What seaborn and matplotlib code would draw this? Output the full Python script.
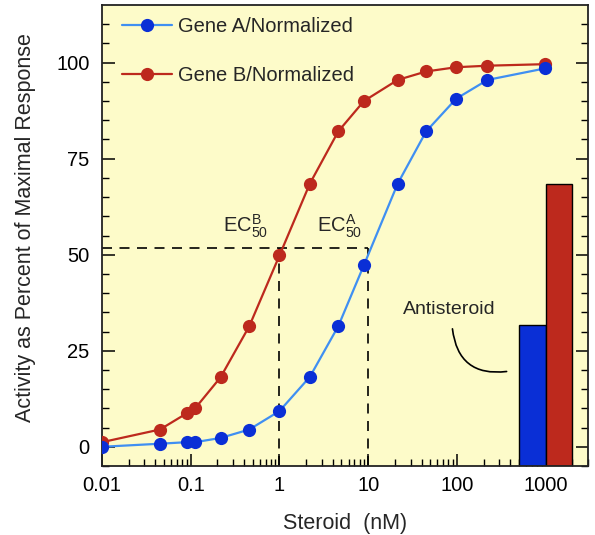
import numpy as np
import pandas as pd
import matplotlib
matplotlib.use("Agg")
import matplotlib.pyplot as plt
import seaborn as sns
from matplotlib.ticker import FixedLocator, NullFormatter, LogLocator

# ---- data ----
steroid_nM = [0.01, 0.045, 0.09, 0.112, 0.217, 0.457, 1.0, 2.2, 4.6, 8.95, 21.5, 45, 98, 221, 986]
gene_a = [0.0, 0.8, 1.2, 1.2, 2.3, 4.5, 9.3, 18.2, 31.4, 47.3, 68.5, 82.1, 90.6, 95.5, 98.5]
gene_b = [1.2, 4.5, 8.7, 10.0, 18.1, 31.4, 49.8, 68.5, 82.1, 90.0, 95.5, 97.7, 98.8, 99.2, 99.6]
series_labels = ["Gene A/Normalized", "Gene B/Normalized"]

ec50_level = 51.7
ec50_b = 1.0
ec50_a = 10.0

antisteroid_labels = ["Gene A", "Gene B"]
antisteroid_left = [500, 1000]
antisteroid_right = [1000, 2000]
antisteroid_values = [31.6, 68.4]

xticks = [0.01, 0.1, 1, 10, 100, 1000]
xtick_labels = ["0.01", "0.1", "1", "10", "100", "1000"]
yticks = [0, 25, 50, 75, 100]

# ---- style ----
sns.set_theme(style="ticks")
plt.rcParams["font.family"] = ["Liberation Sans", "DejaVu Sans"]
plt.rcParams["mathtext.fontset"] = "custom"
plt.rcParams["mathtext.rm"] = "Liberation Sans"
plt.rcParams["mathtext.it"] = "Liberation Sans"

blue_line = "#3f8ff2"
blue_mark = "#0a2fd6"
red = "#bd291d"
bg = "#fdfbc9"

fig = plt.figure(figsize=(5.95, 5.35), dpi=100)
ax = fig.add_axes([102 / 595, 1 - 466 / 535, (588 - 102) / 595, (466 - 5) / 535])
ax.set_facecolor(bg)

df = pd.DataFrame({"steroid": steroid_nM, "A": gene_a, "B": gene_b})

sns.lineplot(data=df, x="steroid", y="A", ax=ax, color=blue_line, lw=1.6,
             marker="o", markersize=9.5, markerfacecolor=blue_mark,
             markeredgecolor=blue_mark, markeredgewidth=0, label=series_labels[0], zorder=4)
sns.lineplot(data=df, x="steroid", y="B", ax=ax, color=red, lw=1.6,
             marker="o", markersize=9.5, markerfacecolor=red,
             markeredgecolor=red, markeredgewidth=0, label=series_labels[1], zorder=3)

ax.set_xscale("log")
ax.set_xlim(0.01, 3000)
ax.set_ylim(-5, 115)

# antisteroid bars
ymin = ax.get_ylim()[0]
for l, r, v, c in zip(antisteroid_left, antisteroid_right, antisteroid_values, [blue_mark, red]):
    ax.bar(l, v - ymin, width=r - l, bottom=ymin, align="edge", color=c,
           edgecolor="black", linewidth=1.0, zorder=2)

# EC50 dashed guides
dash = (0, (6, 4.5))
ax.plot([0.01, ec50_a], [ec50_level, ec50_level], color="black", lw=1.2, ls=dash, zorder=1.5)
ax.plot([ec50_b, ec50_b], [ymin, ec50_level], color="black", lw=1.2, ls=dash, zorder=1.5)
ax.plot([ec50_a, ec50_a], [ymin, ec50_level], color="black", lw=1.2, ls=dash, zorder=1.5)

ax.text(0.42, 57.5, r"$\mathrm{EC}_{50}^{B}$", fontsize=14.5, ha="center", va="center")
ax.text(4.77, 57.5, r"$\mathrm{EC}_{50}^{A}$", fontsize=14.5, ha="center", va="center")

ax.text(83, 35.8, "Antisteroid", fontsize=14, ha="center", va="center")
ax.annotate("", xy=(363, 19.6), xytext=(89, 30.7),
            arrowprops=dict(arrowstyle="-", connectionstyle="arc3,rad=0.5",
                            lw=1.2, color="black", shrinkA=0, shrinkB=0))

# axes/ticks
ax.xaxis.set_major_locator(FixedLocator(xticks))
ax.set_xticklabels(xtick_labels)
ax.xaxis.set_minor_locator(LogLocator(base=10, subs=np.arange(2, 10)))
ax.xaxis.set_minor_formatter(NullFormatter())
ax.set_yticks(yticks)
ax.yaxis.set_minor_locator(FixedLocator(np.arange(-5, 115, 5)))

ax.tick_params(axis="both", which="major", direction="in", length=9, width=1.1,
               labelsize=14.5, color="black", labelcolor="black")
ax.tick_params(axis="both", which="minor", direction="in", length=5, width=1.0, color="black")
ax.tick_params(axis="y", which="both", left=True, right=True, pad=9)
ax.tick_params(axis="x", which="both", bottom=True, top=False, pad=7)
for s in ax.spines.values():
    s.set_visible(True)
    s.set_color("#222222")
    s.set_linewidth(1.3)

ax.set_xlabel("Steroid  (nM)", fontsize=15.5, labelpad=13)
ax.set_ylabel("Activity as Percent of Maximal Response", fontsize=15.5)
ax.yaxis.set_label_coords(-0.135, 0.518)

ax.legend(loc="upper left", bbox_to_anchor=(0.012, 1.005), frameon=False, fontsize=14.5,
          handlelength=2.5, labelspacing=1.5, handletextpad=0.3, borderaxespad=0.2,
          borderpad=0.5)

fig.savefig("out.png", dpi=100, facecolor="white")
